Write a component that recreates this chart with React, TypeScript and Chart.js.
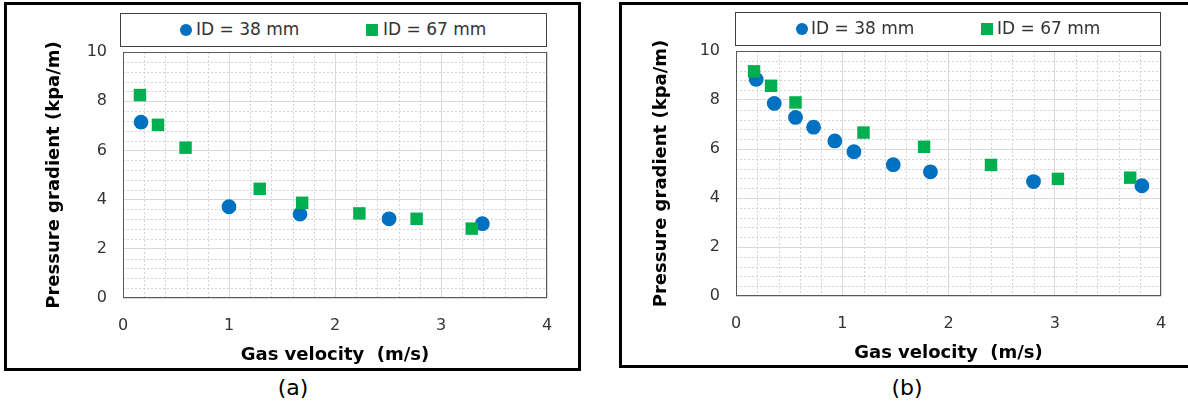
import React, { useEffect, useRef } from 'react';
import { Chart, registerables } from 'chart.js';

Chart.register(...registerables);

// ---------- data ----------
const SERIES_NAMES = ['ID = 38 mm', 'ID = 67 mm'];
const X_TICKS = [0, 1, 2, 3, 4];
const Y_TICKS = [0, 2, 4, 6, 8, 10];
const X_MINOR_STEP = 0.2;
const Y_MINOR_STEP = 0.4;
const X_TITLE = 'Gas velocity  (m/s)';
const Y_TITLE = 'Pressure gradient (kpa/m)';
const CAPTIONS = ['(a)', '(b)'];

const A_ID38_X = [0.17, 1.0, 1.67, 2.51, 3.39];
const A_ID38_Y = [7.15, 3.71, 3.41, 3.22, 3.02];
const A_ID67_X = [0.16, 0.33, 0.59, 1.29, 1.69, 2.23, 2.77, 3.29];
const A_ID67_Y = [8.25, 7.04, 6.11, 4.44, 3.87, 3.44, 3.22, 2.82];

const B_ID38_X = [0.19, 0.36, 0.56, 0.73, 0.93, 1.11, 1.48, 1.83, 2.8, 3.82];
const B_ID38_Y = [8.84, 7.86, 7.29, 6.89, 6.33, 5.89, 5.36, 5.07, 4.67, 4.5];
const B_ID67_X = [0.17, 0.33, 0.56, 1.2, 1.77, 2.4, 3.03, 3.71];
const B_ID67_Y = [9.17, 8.58, 7.9, 6.67, 6.09, 5.35, 4.78, 4.83];

// ---------- styles ----------
const FONT = '"DejaVu Sans", "Liberation Sans", sans-serif';
const BLUE = '#0070C0';
const GREEN = '#00B050';

const toPoints = (xs: number[], ys: number[]) => xs.map((x, i) => ({ x, y: ys[i] }));

const minorGridPlugin = {
  id: 'minorGrid',
  beforeDatasetsDraw(chart: any) {
    const { ctx, chartArea: a, scales } = chart;
    const x = scales.x;
    const y = scales.y;
    ctx.save();
    ctx.strokeStyle = '#d4d4d4';
    ctx.lineWidth = 1;
    ctx.setLineDash([2, 2]);
    const xMin = X_TICKS[0];
    const xMax = X_TICKS[X_TICKS.length - 1];
    const nX = Math.round((xMax - xMin) / X_MINOR_STEP);
    for (let i = 1; i < nX; i++) {
      const v = xMin + i * X_MINOR_STEP;
      if (X_TICKS.some((t) => Math.abs(t - v) < 1e-6)) continue;
      const px = Math.round(x.getPixelForValue(v)) + 0.5;
      ctx.beginPath();
      ctx.moveTo(px, a.top);
      ctx.lineTo(px, a.bottom);
      ctx.stroke();
    }
    const yMin = Y_TICKS[0];
    const yMax = Y_TICKS[Y_TICKS.length - 1];
    const nY = Math.round((yMax - yMin) / Y_MINOR_STEP);
    for (let i = 1; i < nY; i++) {
      const v = yMin + i * Y_MINOR_STEP;
      if (Y_TICKS.some((t) => Math.abs(t - v) < 1e-6)) continue;
      const py = Math.round(y.getPixelForValue(v)) + 0.5;
      ctx.beginPath();
      ctx.moveTo(a.left, py);
      ctx.lineTo(a.right, py);
      ctx.stroke();
    }
    ctx.setLineDash([]);
    ctx.strokeStyle = '#595959';
    ctx.strokeRect(
      Math.round(a.left) + 0.5,
      Math.round(a.top) + 0.5,
      Math.round(a.right - a.left) - 1,
      Math.round(a.bottom - a.top) - 1
    );
    ctx.restore();
  },
};

type PanelCfg = {
  left: number;
  top: number;
  width: number;
  height: number;
  padTop: number;
  padRight: number;
  yAxisWidth: number;
  xAxisHeight: number;
  yTitlePad: number;
  xTitlePad: number;
  blue: { x: number; y: number }[];
  green: { x: number; y: number }[];
};

function ScatterPanel({ cfg }: { cfg: PanelCfg }) {
  const ref = useRef<HTMLCanvasElement | null>(null);
  useEffect(() => {
    if (!ref.current) return;
    const chart = new Chart(ref.current, {
      type: 'scatter',
      data: {
        datasets: [
          {
            label: SERIES_NAMES[0],
            data: cfg.blue,
            pointStyle: 'circle',
            pointRadius: 7.4,
            pointBackgroundColor: BLUE,
            pointBorderWidth: 0,
            borderColor: BLUE,
            backgroundColor: BLUE,
            order: 1,
            clip: false as any,
          },
          {
            label: SERIES_NAMES[1],
            data: cfg.green,
            pointStyle: 'rect',
            pointRadius: 8.8,
            pointBackgroundColor: GREEN,
            pointBorderWidth: 0,
            borderColor: GREEN,
            backgroundColor: GREEN,
            order: 0,
            clip: false as any,
          },
        ],
      },
      options: {
        animation: false,
        responsive: false,
        devicePixelRatio: 1,
        layout: { padding: { left: 0, top: cfg.padTop, right: cfg.padRight, bottom: 0 } },
        plugins: { legend: { display: false }, tooltip: { enabled: false } },
        events: [],
        scales: {
          x: {
            type: 'linear',
            min: X_TICKS[0],
            max: X_TICKS[X_TICKS.length - 1],
            afterBuildTicks: (s: any) => {
              s.ticks = X_TICKS.map((v) => ({ value: v }));
            },
            ticks: {
              padding: 18,
              maxRotation: 0,
              color: '#333333',
              font: { family: FONT, size: 16 },
              callback: (v: any) => String(v),
            },
            grid: { color: '#d9d9d9', drawTicks: false, lineWidth: 1 },
            border: { display: false },
            title: {
              display: true,
              text: X_TITLE,
              color: '#000000',
              font: { family: FONT, size: 18, weight: 'bold' },
              padding: { top: 0, bottom: cfg.xTitlePad },
            },
            afterFit: (s: any) => {
              s.height = cfg.xAxisHeight;
            },
          },
          y: {
            type: 'linear',
            min: Y_TICKS[0],
            max: Y_TICKS[Y_TICKS.length - 1],
            afterBuildTicks: (s: any) => {
              s.ticks = Y_TICKS.map((v) => ({ value: v }));
            },
            ticks: {
              padding: 16,
              color: '#333333',
              font: { family: FONT, size: 16 },
              callback: (v: any) => String(v),
            },
            grid: { color: '#d9d9d9', drawTicks: false, lineWidth: 1 },
            border: { display: false },
            title: {
              display: true,
              text: Y_TITLE,
              color: '#000000',
              font: { family: FONT, size: 18, weight: 'bold' },
              padding: { top: cfg.yTitlePad, bottom: 0 },
            },
            afterFit: (s: any) => {
              s.width = cfg.yAxisWidth;
            },
          },
        },
      } as any,
      plugins: [minorGridPlugin],
    });
    return () => chart.destroy();
  }, [cfg]);
  return (
    <canvas
      ref={ref}
      width={cfg.width}
      height={cfg.height}
      style={{ position: 'absolute', left: cfg.left, top: cfg.top, width: cfg.width, height: cfg.height }}
    />
  );
}

// plot area A: x 123..547, y 52..298 ; plot area B: x 736..1161, y 51..296
const PANEL_A: PanelCfg = {
  left: 20,
  top: 22,
  width: 552,
  height: 348,
  padTop: 30,
  padRight: 25,
  yAxisWidth: 103,
  xAxisHeight: 72,
  yTitlePad: 24,
  xTitlePad: 4,
  blue: toPoints(A_ID38_X, A_ID38_Y),
  green: toPoints(A_ID67_X, A_ID67_Y),
};

const PANEL_B: PanelCfg = {
  left: 635,
  top: 21,
  width: 551,
  height: 349,
  padTop: 30,
  padRight: 25,
  yAxisWidth: 101,
  xAxisHeight: 74,
  yTitlePad: 16,
  xTitlePad: 6,
  blue: toPoints(B_ID38_X, B_ID38_Y),
  green: toPoints(B_ID67_X, B_ID67_Y),
};

function Legend({ left, top, width, height, circleX, squareX, text1X, text2X, markY, textY }: any) {
  const txt: React.CSSProperties = {
    position: 'absolute',
    fontFamily: FONT,
    fontSize: 17,
    lineHeight: '17px',
    color: '#333333',
    whiteSpace: 'pre',
    top: textY,
  };
  return (
    <>
      <div
        style={{
          position: 'absolute',
          left,
          top,
          width: width - 2,
          height: height - 2,
          border: '1px solid #404040',
          background: '#fff',
        }}
      />
      <div
        style={{
          position: 'absolute',
          left: circleX - 6,
          top: markY - 6,
          width: 12,
          height: 12,
          borderRadius: '50%',
          background: BLUE,
        }}
      />
      <span style={{ ...txt, left: text1X }}>{SERIES_NAMES[0]}</span>
      <div
        style={{
          position: 'absolute',
          left: squareX - 6,
          top: markY - 6,
          width: 12,
          height: 12,
          background: GREEN,
        }}
      />
      <span style={{ ...txt, left: text2X }}>{SERIES_NAMES[1]}</span>
    </>
  );
}

export default function App() {
  const cap: React.CSSProperties = {
    position: 'absolute',
    fontFamily: FONT,
    fontSize: 22,
    lineHeight: '24px',
    color: '#000',
    width: 60,
    textAlign: 'center',
    top: 376,
  };
  return (
    <div
      style={{
        position: 'fixed',
        left: 0,
        top: 0,
        width: 1188,
        height: 404,
        background: '#ffffff',
        overflow: 'hidden',
      }}
    >
      {/* panel frames */}
      <div
        style={{
          position: 'absolute',
          left: 4,
          top: 2,
          width: 577 - 6,
          height: 369 - 6,
          border: '3px solid #000',
        }}
      />
      <div
        style={{
          position: 'absolute',
          left: 619,
          top: 2,
          width: 600,
          height: 366 - 6,
          borderTop: '3px solid #000',
          borderBottom: '3px solid #000',
          borderLeft: '3px solid #000',
        }}
      />
      <ScatterPanel cfg={PANEL_A} />
      <ScatterPanel cfg={PANEL_B} />
      <Legend
        left={120}
        top={13}
        width={427}
        height={34}
        circleX={186}
        squareX={372}
        text1X={196}
        text2X={383}
        markY={30}
        textY={21}
      />
      <Legend
        left={735}
        top={12}
        width={426}
        height={34}
        circleX={802}
        squareX={987}
        text1X={811}
        text2X={997}
        markY={29}
        textY={20}
      />
      <div style={{ ...cap, left: 293 - 30 }}>{CAPTIONS[0]}</div>
      <div style={{ ...cap, left: 907 - 30 }}>{CAPTIONS[1]}</div>
    </div>
  );
}
